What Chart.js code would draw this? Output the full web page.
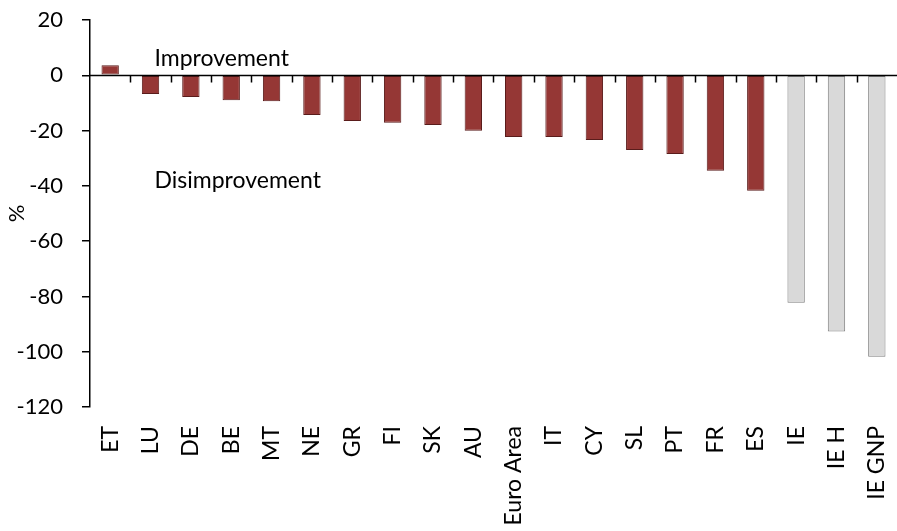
<!DOCTYPE html>
<html lang="en">
<head>
    <meta charset="UTF-8">
    <title>Change by country</title>
    <script src="https://cdn.jsdelivr.net/npm/chart.js"></script>
    <style>
      html, body { margin: 0; padding: 0; background: #fff; }
      #wrap { width: 897px; height: 531px; }
    </style>
</head>
<body>
    <div id="wrap"><canvas id="chart"></canvas></div>
    <script>
    const countries = ['ET', 'LU', 'DE', 'BE', 'MT', 'NE', 'GR', 'FI', 'SK', 'AU', 'Euro Area',
                       'IT', 'CY', 'SL', 'PT', 'FR', 'ES', 'IE', 'IE H', 'IE GNP'];
    const change = [3.6, -6.8, -7.9, -9.0, -9.4, -14.4, -16.5, -17.2, -18.0, -20.1, -22.3,
                    -22.3, -23.4, -27.0, -28.5, -34.5, -41.8, -82.3, -92.7, -101.8];
    const yTicks = [20, 0, -20, -40, -60, -80, -100, -120];
    const notes = [
      { text: 'Improvement', value: 6 },
      { text: 'Disimprovement', value: -38 }
    ];

    const FONT = 'Lato, "Open Sans", sans-serif';
    const isIreland = name => name.startsWith('IE');

    // zero line with small tick marks between the categories, plus the two notes
    const zeroAxis = {
      id: 'zeroAxis',
      afterDatasetsDraw(chart) {
        const { ctx, scales: { x, y }, chartArea } = chart;
        const y0 = Math.round(y.getPixelForValue(0)) + 0.5;
        const half = (x.getPixelForValue(1) - x.getPixelForValue(0)) / 2;
        ctx.save();
        ctx.strokeStyle = '#000';
        ctx.lineWidth = 1.5;
        ctx.beginPath();
        ctx.moveTo(chartArea.left, y0);
        ctx.lineTo(chartArea.right, y0);
        for (let i = 1; i < countries.length; i++) {
          const px = Math.round(x.getPixelForValue(i) - half) + 0.5;
          ctx.moveTo(px, y0);
          ctx.lineTo(px, y0 + 7);
        }
        ctx.stroke();

        ctx.fillStyle = '#000';
        ctx.font = '23px ' + FONT;
        ctx.textBaseline = 'middle';
        ctx.textAlign = 'left';
        const nx = x.getPixelForValue(1) + 4;
        for (const n of notes) {
          ctx.fillText(n.text, nx, y.getPixelForValue(n.value));
        }
        ctx.restore();
      }
    };

    new Chart(document.getElementById('chart'), {
      type: 'bar',
      data: {
        labels: countries,
        datasets: [{
          data: change,
          backgroundColor: countries.map(c => isIreland(c) ? '#d9d9d9' : '#953735'),
          borderColor: countries.map(c => isIreland(c) ? '#7f7f7f' : '#5a1c1b'),
          borderWidth: 1,
          borderSkipped: false,
          barPercentage: 0.43,
          categoryPercentage: 1
        }]
      },
      options: {
        responsive: true,
        maintainAspectRatio: false,
        animation: false,
        layout: { padding: { top: 20, right: -10, left: 0, bottom: 0 } },
        plugins: {
          legend: { display: false },
          tooltip: { enabled: false }
        },
        scales: {
          x: {
            afterFit: scale => {
              scale.height = 124;
              scale.paddingLeft = 0;
              scale.paddingRight = 0;
            },
            grid: { display: false },
            border: { display: false },
            ticks: {
              color: '#000',
              font: { family: FONT, size: 23 },
              minRotation: 90,
              maxRotation: 90,
              autoSkip: false,
              padding: 11
            }
          },
          y: {
            min: -120,
            max: 20,
            afterBuildTicks: scale => { scale.ticks = yTicks.map(v => ({ value: v })); },
            afterFit: scale => {
              scale.width = 90;
              scale.paddingTop = 0;
              scale.paddingBottom = 0;
            },
            grid: {
              drawOnChartArea: false,
              tickLength: 8,
              color: '#000',
              lineWidth: 1.5
            },
            border: { color: '#000', width: 1.5 },
            ticks: {
              color: '#000',
              font: { family: FONT, size: 22 },
              padding: 19
            },
            title: {
              display: true,
              text: '%',
              color: '#000',
              font: { family: FONT, size: 22 },
              padding: { top: 4, bottom: 0 }
            }
          }
        }
      },
      plugins: [zeroAxis]
    });
    </script>
</body>
</html>
